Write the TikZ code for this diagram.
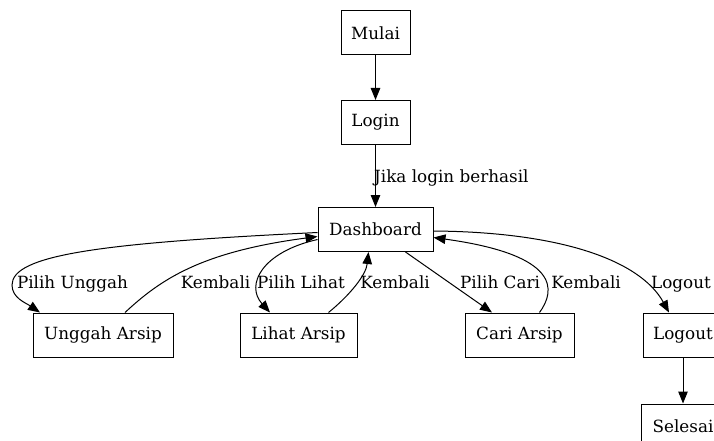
\documentclass[tikz,border=0pt]{standalone}
\usepackage{fontspec}
\setmainfont{DejaVu Serif}
\usetikzlibrary{arrows.meta,calc}
\begin{document}
\begin{tikzpicture}[x=1pt,y=-1pt,
  every node/.style={font=\fontsize{16.8}{20}\selectfont},
  box/.style={draw,line width=1pt,minimum height=44pt,inner sep=0pt},
  lbl/.style={anchor=base,inner sep=0pt},
  arr/.style={line width=1pt,-{Triangle[length=12pt,width=9.5pt]}}]
\useasboundingbox (0,0) rectangle (714,441);
\clip (0,0) rectangle (714,441);
% nodes
\node[box,minimum width=69pt] (mulai) at (375.5,33) {Mulai};
\node[box,minimum width=69pt] (login) at (375.5,122.5) {Login};
\node[box,minimum width=115pt] (dash) at (375.5,229.5) {Dashboard};
\node[box,minimum width=140pt] (ung) at (103,335) {Unggah Arsip};
\node[box,minimum width=117pt] (lihat) at (298.5,335) {Lihat Arsip};
\node[box,minimum width=109pt] (cari) at (519.5,335) {Cari Arsip};
\node[box,minimum width=80pt] (logout) at (683,335) {Logout};
\node[box,minimum width=84pt] (selesai) at (683,426) {Selesai};
% edges
\draw[arr] (mulai) -- (login);
\draw[arr] (login) -- (dash);
\draw[arr] ([yshift=-3pt]dash.west) .. controls (100,243) and (12,255) .. (12,285)
  .. controls (12,298) and (26,303) .. ([xshift=-63pt]ung.north);
\draw[arr] ([xshift=22pt]ung.north) .. controls (160,280) and (200,252) .. ([yshift=-7pt]dash.west);
\draw[arr] ([yshift=-10pt]dash.west) .. controls (262,252) and (245,285) .. ([xshift=-28.5pt]lihat.north);
\draw[arr] ([xshift=30pt]lihat.north) .. controls (350,295) and (366,275) .. ([xshift=-7pt]dash.south);
\draw[arr] ([xshift=30pt]dash.south) -- ([xshift=-27.5pt]cari.north);
\draw[arr] ([xshift=20pt]cari.north) .. controls (556,290) and (560,255) .. ([yshift=-8pt]dash.east);
\draw[arr] ([yshift=-1.5pt]dash.east) .. controls (560,232) and (640,260) .. ([xshift=-14pt]logout.north);
\draw[arr] (logout) -- (selesai);
% labels
\node[lbl,anchor=base west] (l0) at (374,182) {Jika login berhasil};
\node[lbl] (l1) at (72.5,288) {Pilih Unggah};
\node[lbl] (l2) at (215.5,288) {Kembali};
\node[lbl] (l3) at (301,288) {Pilih Lihat};
\node[lbl] (l4) at (395,288) {Kembali};
\node[lbl] (l5) at (500,288) {Pilih Cari};
\node[lbl] (l6) at (586,288) {Kembali};
\node[lbl] (l7) at (681,288) {Logout};
\end{tikzpicture}
\end{document}
